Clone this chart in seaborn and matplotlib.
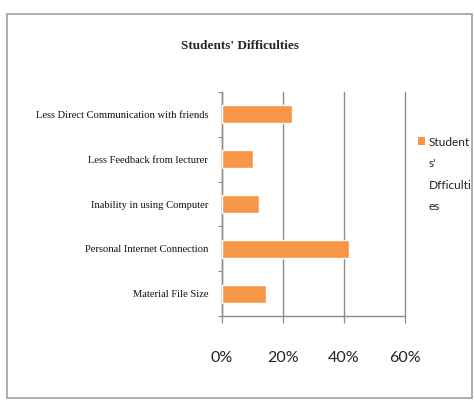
import matplotlib
matplotlib.use("Agg")
import matplotlib.pyplot as plt
from matplotlib.patches import Rectangle, Patch
from matplotlib.ticker import FuncFormatter, FixedLocator
import seaborn as sns
import pandas as pd

categories = [
    "Less Direct Communication with friends",
    "Less Feedback from lecturer",
    "Inability in using Computer",
    "Personal Internet Connection",
    "Material File Size",
]
values = [22.8, 10.3, 12.1, 41.6, 14.3]
x_ticks = [0, 20, 40, 60]
title = "Students' Difficulties"
legend_label = "Student\ns'\nDfficulti\nes"

bar_color = "#F79646"
grid_color = "#8c8c8c"

sns.set_theme(style="white")
plt.rcParams["font.family"] = ["Liberation Serif", "DejaVu Sans"]

df = pd.DataFrame({"category": categories, "value": values})

fig = plt.figure(figsize=(4.74, 4.0), dpi=100)
ax = fig.add_axes([222 / 474, 1 - 316 / 400, (405 - 222) / 474, (316 - 92) / 400])

sns.barplot(data=df, y="category", x="value", orient="h", color=bar_color,
            width=0.4, saturation=1, ax=ax, zorder=3)

ax.set_xlim(0, 60)
ax.set_ylim(len(categories) - 0.5, -0.5)
ax.set_xlabel("")
ax.set_ylabel("")

ax.xaxis.set_major_locator(FixedLocator(x_ticks))
ax.xaxis.set_major_formatter(FuncFormatter(lambda v, p: f"{int(v)}%"))
ax.grid(axis="x", color=grid_color, linewidth=1.0, zorder=0)
ax.grid(axis="y", visible=False)
for gl in ax.get_xgridlines():
    gl.set_clip_on(False)

for side in ["top", "right"]:
    ax.spines[side].set_visible(False)
for side in ["left", "bottom"]:
    ax.spines[side].set_color(grid_color)
    ax.spines[side].set_linewidth(1.0)

ax.tick_params(axis="x", which="major", bottom=True, direction="out",
               length=5, width=0.9, color=grid_color, pad=20,
               labelsize=11.5, labelcolor="#222222")
for lab in ax.get_xticklabels():
    lab.set_fontfamily(["Lato", "DejaVu Sans"])

ax.tick_params(axis="y", which="major", left=False, length=0, pad=10,
               labelsize=7.6, labelcolor="#111111")
ax.yaxis.set_minor_locator(FixedLocator([i - 0.5 for i in range(len(categories) + 1)]))
ax.tick_params(axis="y", which="minor", left=True, direction="out",
               length=3, width=0.8, color=grid_color)

fig.text(240 / 474, 1 - 46 / 400, title, ha="center", va="center",
         fontsize=9.5, fontweight="bold", fontfamily=["Liberation Serif", "DejaVu Sans"])

handle = Patch(facecolor=bar_color, edgecolor="none")
leg = fig.legend([handle], [legend_label], loc="upper left",
                 bbox_to_anchor=(418 / 474, 1 - 137 / 400), frameon=False,
                 prop={"family": ["Lato", "DejaVu Sans"], "size": 8.6},
                 handlelength=0.6, handleheight=0.6, handletextpad=0.3,
                 borderpad=0, borderaxespad=0)
for t in leg.get_texts():
    t.set_linespacing(2.15)
    t.set_color("#222222")
try:
    for col in leg._legend_handle_box.get_children():
        for item in col.get_children():
            item.align = "top"
except Exception:
    pass

fig.patches.append(Rectangle((7 / 474, 1 - 398 / 400), (472 - 7) / 474, (398 - 14) / 400,
                             transform=fig.transFigure, fill=False,
                             edgecolor="#a0a0a0", linewidth=1.2))

fig.savefig("out.png", dpi=100, facecolor="white")
